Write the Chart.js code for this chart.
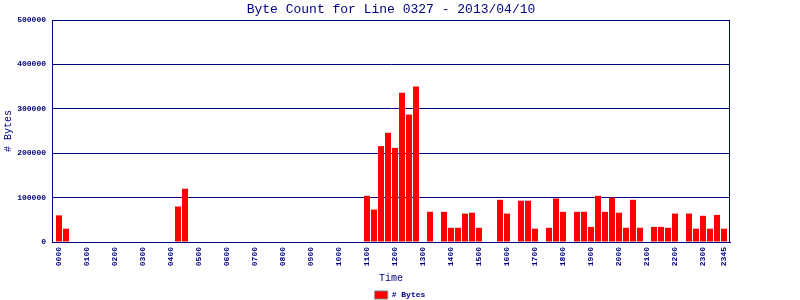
<!DOCTYPE html>
<html>
<head>
<meta charset="utf-8">
<script src="https://cdn.jsdelivr.net/npm/chart.js@4/dist/chart.umd.min.js"></script>
<style>
    html, body { margin: 0; padding: 0; background: #fff; }
    #wrap { width: 800px; height: 300px; }
</style>
</head>
<body>
<div id="wrap"><canvas id="byteChart" width="800" height="300"></canvas></div>
<script>
// 15 minute slots for the day
var times = [
    '0000', '0015', '0030', '0045', '0100', '0115', '0130', '0145',
    '0200', '0215', '0230', '0245', '0300', '0315', '0330', '0345',
    '0400', '0415', '0430', '0445', '0500', '0515', '0530', '0545',
    '0600', '0615', '0630', '0645', '0700', '0715', '0730', '0745',
    '0800', '0815', '0830', '0845', '0900', '0915', '0930', '0945',
    '1000', '1015', '1030', '1045', '1100', '1115', '1130', '1145',
    '1200', '1215', '1230', '1245', '1300', '1315', '1330', '1345',
    '1400', '1415', '1430', '1445', '1500', '1515', '1530', '1545',
    '1600', '1615', '1630', '1645', '1700', '1715', '1730', '1745',
    '1800', '1815', '1830', '1845', '1900', '1915', '1930', '1945',
    '2000', '2015', '2030', '2045', '2100', '2115', '2130', '2145',
    '2200', '2215', '2230', '2245', '2300', '2315', '2330', '2345'
];

// bytes per slot
var bytes = [
    60000, 30000, 0, 0, 0, 0, 0, 0,
    0, 0, 0, 0, 0, 0, 0, 0,
    0, 80000, 120000, 0, 0, 0, 0, 0,
    0, 0, 0, 0, 0, 0, 0, 0,
    0, 0, 0, 0, 0, 0, 0, 0,
    0, 0, 0, 0, 104000, 73000, 216000, 246000,
    212000, 336000, 287000, 350000, 0, 68000, 0, 68000,
    32000, 32000, 64000, 66000, 32000, 0, 0, 95000,
    64000, 0, 93000, 93000, 30000, 0, 32000, 98000,
    68000, 0, 68000, 68000, 34000, 104000, 68000, 100000,
    66000, 32000, 95000, 32000, 0, 34000, 34000, 32000,
    64000, 0, 64000, 30000, 59000, 30000, 61000, 30000
];

// labelled ticks on the time axis
var tickTimes = ['0000', '0100', '0200', '0300', '0400', '0500', '0600', '0700',
    '0800', '0900', '1000', '1100', '1200', '1300', '1400', '1500', '1600',
    '1700', '1800', '1900', '2000', '2100', '2200', '2300', '2345'];

var yTicks = [0, 100000, 200000, 300000, 400000, 500000];

var navy = '#000080';
var mono = "'Liberation Mono', 'DejaVu Sans Mono', monospace";

// Draw the box round the plot area
var frame = {
    id: 'frame',
    afterDraw: function(chart) {
        var a = chart.chartArea;
        var c = chart.ctx;
        c.save();
        c.strokeStyle = navy;
        c.lineWidth = 1;
        c.strokeRect(Math.round(a.left) + 0.5, Math.round(a.top) + 0.5,
            Math.round(a.right - a.left) - 1, Math.round(a.bottom - a.top));
        c.restore();
    }
};

var points = bytes.map(function(v, i) { return { x: i, y: v }; });

var ctx = document.getElementById('byteChart').getContext('2d');
var byteChart = new Chart(ctx, {
    type: 'bar',
    data: {
        datasets: [{
            label: '# Bytes',
            data: points,
            backgroundColor: '#ff0000',
            borderWidth: 0,
            inflateAmount: 0,
            barThickness: 6,
            yAxisID: 'y'
        }]
    },
    plugins: [frame],
    options: {
        responsive: false,
        animation: false,
        layout: { padding: { left: 0, right: 0, top: 0, bottom: -9 } },
        plugins: {
            title: {
                display: true,
                text: 'Byte Count for Line 0327 - 2013/04/10',
                color: navy,
                fullSize: false,
                font: { family: mono, size: 13, weight: 'normal', lineHeight: 1.2 },
                padding: { top: 2, bottom: 2.4 }
            },
            legend: {
                position: 'bottom',
                labels: {
                    color: navy,
                    font: { family: mono, size: 8, weight: 'bold' },
                    boxWidth: 13,
                    boxHeight: 8,
                    padding: 3,
                    generateLabels: function(chart) {
                        return [{
                            text: '# Bytes',
                            fillStyle: '#ff0000',
                            strokeStyle: '#808080',
                            lineWidth: 1,
                            fontColor: navy,
                            datasetIndex: 0
                        }];
                    }
                }
            },
            tooltip: { enabled: false }
        },
        scales: {
            x: {
                type: 'linear',
                min: -1,
                max: 95.857,
                offset: false,
                afterBuildTicks: function(scale) {
                    scale.ticks = tickTimes.map(function(t) { return { value: times.indexOf(t) }; });
                },
                afterFit: function(scale) { scale.height = 46; },
                ticks: {
                    autoSkip: false,
                    minRotation: 90,
                    maxRotation: 90,
                    padding: 5,
                    color: navy,
                    font: { family: mono, size: 8, weight: 'bold' },
                    callback: function(v) { return times[v]; }
                },
                grid: { display: false, drawTicks: false },
                border: { color: navy },
                title: {
                    display: true,
                    text: 'Time',
                    color: navy,
                    font: { family: mono, size: 10 },
                    padding: { top: 0, bottom: 4 }
                }
            },
            y: {
                min: 0,
                max: 500000,
                afterBuildTicks: function(scale) {
                    scale.ticks = yTicks.map(function(v) { return { value: v }; });
                },
                afterFit: function(scale) { scale.width = 52; },
                ticks: {
                    padding: 6,
                    color: navy,
                    font: { family: mono, size: 8, weight: 'bold' },
                    callback: function(v) { return String(v); }
                },
                grid: { color: navy, lineWidth: 1, drawTicks: false },
                border: { color: navy },
                title: {
                    display: true,
                    text: '# Bytes',
                    color: navy,
                    font: { family: mono, size: 10 },
                    padding: { top: 2, bottom: 0 }
                }
            },
            // empty space on the right of the plot
            yRight: {
                position: 'right',
                afterFit: function(scale) { scale.width = 70; },
                ticks: { display: false },
                grid: { display: false, drawTicks: false },
                border: { display: false }
            }
        }
    }
});
</script>
</body>
</html>
